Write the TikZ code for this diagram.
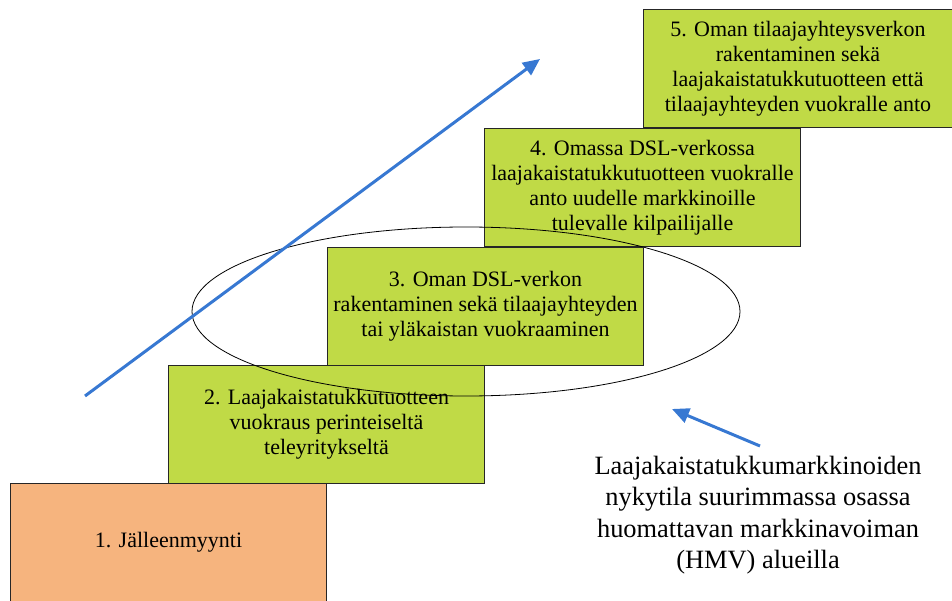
\documentclass[tikz,border=0pt]{standalone}
\usepackage{fontspec}
\setmainfont{Liberation Serif}
\usetikzlibrary{arrows.meta,shapes.geometric}
\definecolor{stepgreen}{RGB}{192,218,70}
\definecolor{steporange}{RGB}{246,180,126}
\definecolor{arrowblue}{RGB}{55,120,210}
\begin{document}
\begin{tikzpicture}[x=1pt,y=-1pt,
  stage/.style={draw=black!85, line width=1pt, fill=stepgreen,
    minimum width=316pt, minimum height=118pt, anchor=north west,
    align=center, inner sep=0pt, font=\fontsize{22}{25}\selectfont},
  bluearrow/.style={draw=arrowblue, line width=3pt,
    -{Triangle[length=17pt,width=15pt]}},
  note/.style={align=center, inner sep=0pt, font=\fontsize{26.4}{31.3}\selectfont}]
  \useasboundingbox (0,0) rectangle (952,601);

  % staircase of stages
  \node[stage, fill=steporange] (s1) at (10,483) {1. Jälleenmyynti};
  \node[stage] (s2) at (168,365) {2. Laajakaistatukkutuotteen\\vuokraus perinteiseltä\\teleyritykseltä};
  \node[stage, minimum width=309pt] (s5) at (643,9) {5. Oman tilaajayhteysverkon\\rakentaminen sekä\\laajakaistatukkutuotteen että\\tilaajayhteyden vuokralle anto};
  \node[stage] (s4) at (484,128) {4. Omassa DSL-verkossa\\laajakaistatukkutuotteen vuokralle\\anto uudelle markkinoille\\tulevalle kilpailijalle};

  % ring around the current stage
  \node[draw=black, line width=0.8pt, ellipse, inner sep=0pt,
        minimum width=548pt, minimum height=169pt] (ring) at (466,311.5) {};

  \node[stage] (s3) at (327,247) {3. Oman DSL-verkon\\rakentaminen sekä tilaajayhteyden\\tai yläkaistan vuokraaminen};

  % rising arrow
  \coordinate (riseStart) at (85,396);
  \coordinate (riseEnd) at (540,59);
  \draw[bluearrow] (riseStart) -- (riseEnd);

  % note on the present state
  \node[note] (state) at (758,515) {Laajakaistatukkumarkkinoiden\\nykytila suurimmassa osassa\\huomattavan markkinavoiman\\(HMV) alueilla};
  \coordinate (noteTail) at (760,446);
  \coordinate (noteTip) at (672,409);
  \draw[bluearrow] (noteTail) -- (noteTip);
\end{tikzpicture}
\end{document}
